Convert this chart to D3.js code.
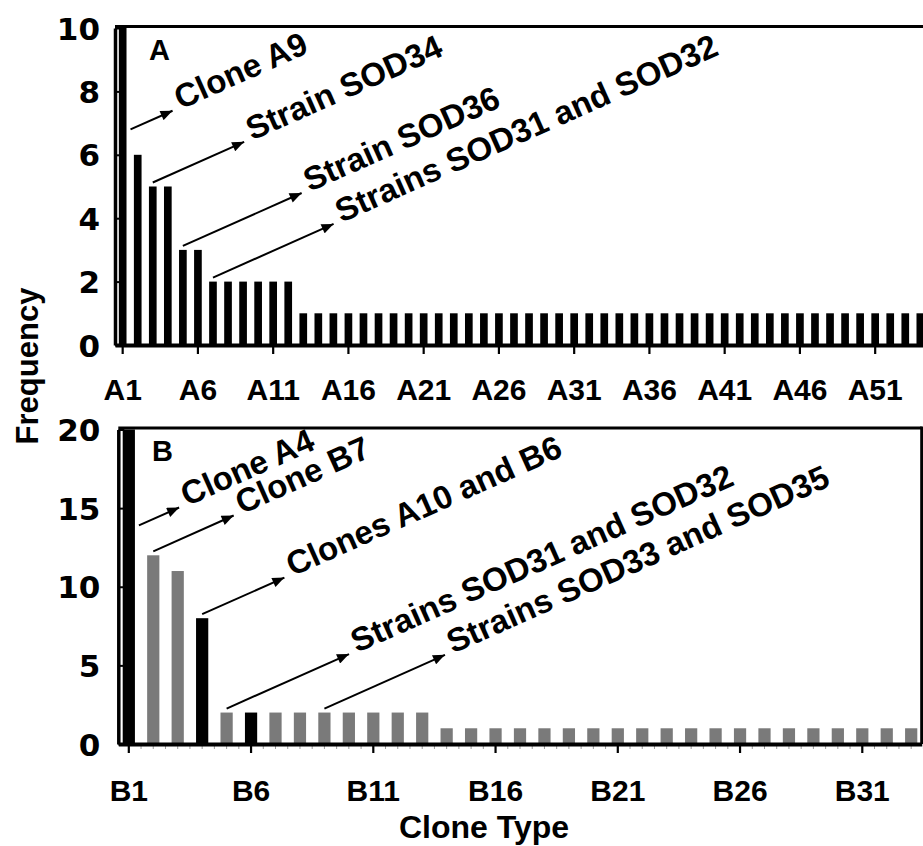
<!DOCTYPE html>
<html>
<head>
<meta charset="utf-8">
<script src="https://cdn.jsdelivr.net/npm/d3@7/dist/d3.min.js"></script>
<style>
  html, body { margin: 0; padding: 0; background: #fff; }
  svg { display: block; }
</style>
</head>
<body>
<svg id="chart" width="923" height="846"></svg>
<script>
// ---- Panel A: clone types and how often each was found ----
const categoriesA = ["A1","A2","A3","A4","A5","A6","A7","A8","A9","A10","A11","A12","A13","A14","A15","A16","A17","A18",
  "A19","A20","A21","A22","A23","A24","A25","A26","A27","A28","A29","A30","A31","A32","A33","A34","A35","A36",
  "A37","A38","A39","A40","A41","A42","A43","A44","A45","A46","A47","A48","A49","A50","A51","A52","A53","A54"];
const frequencyA = [10,6,5,5,3,3,2,2,2,2,2,2,1,1,1,1,1,1,
  1,1,1,1,1,1,1,1,1,1,1,1,1,1,1,1,1,1,
  1,1,1,1,1,1,1,1,1,1,1,1,1,1,1,1,1,1];
const tickLabelsA = ["A1","A6","A11","A16","A21","A26","A31","A36","A41","A46","A51"];
const yTicksA = [0,2,4,6,8,10];

// ---- Panel B ----
const categoriesB = ["B1","B2","B3","B4","B5","B6","B7","B8","B9","B10","B11","B12","B13","B14","B15","B16","B17",
  "B18","B19","B20","B21","B22","B23","B24","B25","B26","B27","B28","B29","B30","B31","B32","B33"];
const frequencyB = [20,12,11,8,2,2,2,2,2,2,2,2,2,1,1,1,1,
  1,1,1,1,1,1,1,1,1,1,1,1,1,1,1,1];
const highlightedB = ["B1","B4","B6"];
const tickLabelsB = ["B1","B6","B11","B16","B21","B26","B31"];
const yTicksB = [0,5,10,15,20];

// Callouts: text, the bar they point from, and the height the arrow starts at
const annotationsA = [
  { label: "Clone A9", category: "A1", value: 6.8, beside: true, length: 46 },
  { label: "Strain SOD34", category: "A3", value: 5, length: 100 },
  { label: "Strain SOD36", category: "A5", value: 3, length: 130 },
  { label: "Strains SOD31 and SOD32", category: "A7", value: 2, length: 132 }
];
const annotationsB = [
  { label: "Clone A4", category: "B1", value: 13.9, beside: true, length: 44 },
  { label: "Clone B7", category: "B2", value: 12, length: 88 },
  { label: "Clones A10 and B6", category: "B4", value: 8, length: 90 },
  { label: "Strains SOD31 and SOD32", category: "B5", value: 2, length: 134 },
  { label: "Strains SOD33 and SOD35", category: "B9", value: 2, length: 132 }
];

const SANS = "'Liberation Sans', Arial, Helvetica, sans-serif";
const HEAVY = "'DejaVu Sans', 'Liberation Sans', Arial, sans-serif";
const ANGLE = 24;

const svg = d3.select("#chart");
svg.append("rect").attr("width", 923).attr("height", 846).attr("fill", "#fff");

svg.append("defs").append("marker")
  .attr("id", "head")
  .attr("markerUnits", "userSpaceOnUse")
  .attr("viewBox", "0 0 12 10")
  .attr("refX", 12).attr("refY", 5)
  .attr("markerWidth", 13).attr("markerHeight", 10)
  .attr("orient", "auto")
  .append("path").attr("d", "M0,0 L12,5 L0,10 Z").attr("fill", "#000");

function drawPanel(p) {
  const g = svg.append("g");
  const x = d3.scaleBand().domain(p.categories).range(p.xRange)
    .paddingInner(p.padInner).paddingOuter(p.padOuter);
  const y = d3.scaleLinear().domain([0, p.yMax]).range(p.yRange);

  // bars
  g.selectAll("rect.bar").data(p.values).join("rect")
    .attr("class", "bar")
    .attr("x", (d, i) => x(p.categories[i]))
    .attr("width", x.bandwidth())
    .attr("y", d => y(d))
    .attr("height", d => y(0) - y(d))
    .attr("fill", (d, i) => p.fill(p.categories[i]));

  // top frame line (and right edge where the plot ends inside the page)
  g.append("line")
    .attr("x1", p.xRange[0]).attr("x2", p.xRange[1])
    .attr("y1", y(p.yMax) - 1.5).attr("y2", y(p.yMax) - 1.5)
    .attr("stroke", "#000").attr("stroke-width", 3.2);
  if (p.rightEdge) {
    g.append("line")
      .attr("x1", p.xRange[1]).attr("x2", p.xRange[1])
      .attr("y1", y(p.yMax) - 3).attr("y2", y(0))
      .attr("stroke", "#000").attr("stroke-width", 3);
  }

  // minor category ticks
  if (p.minorTicks) {
    const half = x.step() / 2;
    const pos = [];
    p.categories.forEach(c => { pos.push(x(c) + x.bandwidth() / 2); pos.push(x(c) + x.bandwidth() / 2 + half); });
    g.selectAll("line.minor").data(pos).join("line")
      .attr("class", "minor")
      .attr("x1", d => d).attr("x2", d => d)
      .attr("y1", y(0)).attr("y2", y(0) + 5)
      .attr("stroke", "#9a9a9a").attr("stroke-width", 1);
  }

  // x axis
  const xAxis = g.append("g")
    .attr("transform", `translate(0,${y(0)})`)
    .call(d3.axisBottom(x).tickValues(p.tickLabels).tickSize(p.tickLen).tickSizeOuter(0));
  xAxis.select(".domain").attr("stroke", "#000").attr("stroke-width", 4);
  xAxis.selectAll(".tick line").attr("stroke", "#000").attr("stroke-width", 2.2);
  xAxis.selectAll(".tick text")
    .attr("y", p.xLabelBaseline - y(0)).attr("dy", 0)
    .attr("fill", "#000")
    .style("font-family", SANS).style("font-weight", "bold").style("font-size", "30px");

  // y axis (ticks point into the plot)
  const yAxis = g.append("g")
    .attr("transform", `translate(${p.xRange[0]},0)`)
    .call(d3.axisLeft(y).tickValues(p.yTicks).tickSize(-6).tickSizeOuter(0).tickPadding(p.yLabelGap));
  yAxis.select(".domain").attr("stroke", "#000").attr("stroke-width", 3.5);
  yAxis.selectAll(".tick line").attr("stroke", "#000").attr("stroke-width", 2);
  yAxis.selectAll(".tick text")
    .attr("dy", "0.36em")
    .attr("fill", "#000")
    .style("font-family", HEAVY).style("font-weight", "bold").style("font-size", "31px");

  // panel letter
  g.append("text")
    .attr("x", p.letterX).attr("y", p.letterY)
    .attr("fill", "#000")
    .style("font-family", SANS).style("font-weight", "bold").style("font-size", "29px")
    .text(p.letter);

  // callouts
  const rad = ANGLE * Math.PI / 180;
  p.annotations.forEach(a => {
    const cx = a.beside ? x(a.category) + x.bandwidth() + 4 : x(a.category) + x.bandwidth() / 2;
    const cy = y(a.value) - (a.beside ? 0 : 4);
    const tx = cx + a.length * Math.cos(rad);
    const ty = cy - a.length * Math.sin(rad);
    g.append("line")
      .attr("x1", cx).attr("y1", cy).attr("x2", tx).attr("y2", ty)
      .attr("stroke", "#000").attr("stroke-width", 2)
      .attr("marker-end", "url(#head)");
    const sx = tx + 8, sy = ty - 1;
    g.append("text")
      .attr("transform", `translate(${sx},${sy}) rotate(${-ANGLE})`)
      .attr("fill", "#000")
      .style("font-family", SANS).style("font-weight", "bold").style("font-size", "33px")
      .text(a.label);
  });
}

drawPanel({
  categories: categoriesA, values: frequencyA, yMax: 10, yTicks: yTicksA, tickLabels: tickLabelsA,
  xRange: [115, 928], yRange: [345, 28], padInner: 0.49, padOuter: 0.255,
  fill: () => "#000", rightEdge: false, minorTicks: false, tickLen: 9, xLabelBaseline: 400,
  yLabelGap: 15, letter: "A", letterX: 149, letterY: 60, annotations: annotationsA
});

drawPanel({
  categories: categoriesB, values: frequencyB, yMax: 20, yTicks: yTicksB, tickLabels: tickLabelsB,
  xRange: [118.3, 921.7], yRange: [744, 429.5], padInner: 0.5, padOuter: 0.18,
  fill: c => highlightedB.includes(c) ? "#000" : "#7a7a7a", rightEdge: true, minorTicks: true, tickLen: 9,
  xLabelBaseline: 801, yLabelGap: 18, letter: "B", letterX: 152, letterY: 461, annotations: annotationsB
});

// axis titles
svg.append("text")
  .attr("transform", "translate(38,366) rotate(-90)")
  .attr("text-anchor", "middle")
  .attr("fill", "#000")
  .style("font-family", SANS).style("font-weight", "bold").style("font-size", "31px")
  .text("Frequency");

svg.append("text")
  .attr("x", 484).attr("y", 838)
  .attr("text-anchor", "middle")
  .attr("fill", "#000")
  .style("font-family", SANS).style("font-weight", "bold").style("font-size", "32px")
  .text("Clone Type");
</script>
</body>
</html>
